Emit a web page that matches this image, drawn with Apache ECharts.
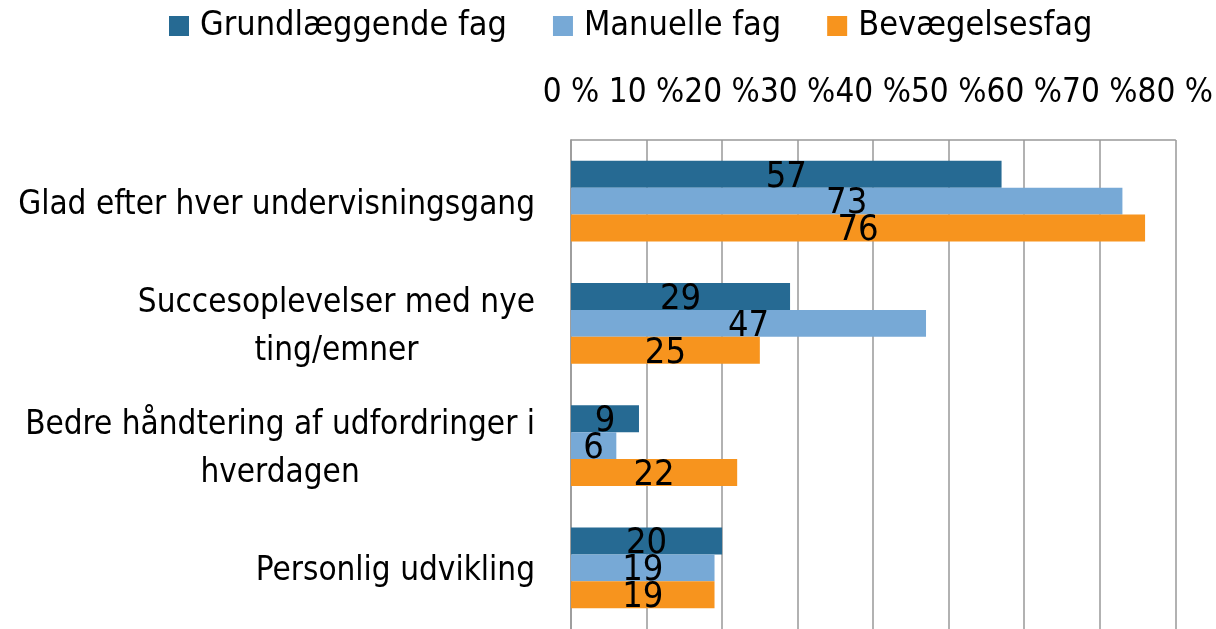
<!DOCTYPE html>
<html>
<head>
<meta charset="utf-8">
<script src="https://cdn.jsdelivr.net/npm/echarts@6/dist/echarts.min.js"></script>
<style>html,body{margin:0;padding:0;background:#fff}#c{width:1216px;height:629px}</style>
</head>
<body>
<div id="c"></div>
<script>
const categories = ["Glad efter hver undervisningsgang", "Succesoplevelser med nye\nting/emner", "Bedre håndtering af udfordringer i\nhverdagen", "Personlig udvikling"];
const seriesNames = ["Grundlæggende fag", "Manuelle fag", "Bevægelsesfag"];
const grundlaeggende = [57, 29, 9, 20];
const manuelle = [73, 47, 6, 19];
const bevaegelse = [76, 25, 22, 19];
const xTicks = [0, 10, 20, 30, 40, 50, 60, 70, 80];

const FONT = "'Liberation Sans Narrow', 'DejaVu Sans Condensed', 'Noto Sans', sans-serif";
const colors = ['#266A93', '#77A9D6', '#F7941E'];
const chart = echarts.init(document.getElementById('c'));
const values = [grundlaeggende, manuelle, bevaegelse];
chart.setOption({
  animation: false,
  color: colors,
  textStyle: { fontFamily: FONT },
  legend: {
    top: 4, left: 164,
    itemWidth: 20, itemHeight: 20, itemGap: 46,
    icon: 'rect',
    textStyle: { fontFamily: FONT, fontSize: 34, color: '#000', padding: [0, 0, 0, 6] },
    data: seriesNames
  },
  grid: { left: 571, right: 33, top: 140, height: 490, containLabel: false },
  xAxis: {
    type: 'value', position: 'top', min: xTicks[0], max: xTicks[xTicks.length - 1], interval: 10,
    axisLine: { show: true, lineStyle: { color: '#999', width: 1.5 } },
    axisTick: { show: false },
    splitLine: { show: true, lineStyle: { color: '#999', width: 1.5 } },
    axisLabel: { formatter: '{value} %', fontFamily: FONT, fontSize: 33, color: '#000', margin: 30,
      showMaxLabel: true, showMinLabel: true, hideOverlap: false }
  },
  yAxis: {
    type: 'category', inverse: true, data: categories,
    axisLine: { show: true, lineStyle: { color: '#999', width: 1.5 } },
    axisTick: { show: false },
    axisLabel: {
      margin: 36, fontFamily: FONT, fontSize: 33, color: '#000', lineHeight: 48, padding: [8, 0, 0, 0],
      formatter: v => v.split('\n').map(l => '{c|' + l + '}').join('\n'),
      rich: { c: { align: 'center', fontFamily: FONT, fontSize: 33, color: '#000', lineHeight: 48 } }
    }
  },
  series: seriesNames.map((n, i) => ({
    name: n, type: 'bar', data: values[i],
    barGap: '0%', barCategoryGap: '34%',
    label: { show: true, position: 'inside', color: '#000', fontFamily: FONT, fontSize: 36, offset: [0, 3] }
  }))
});
</script>
</body>
</html>
